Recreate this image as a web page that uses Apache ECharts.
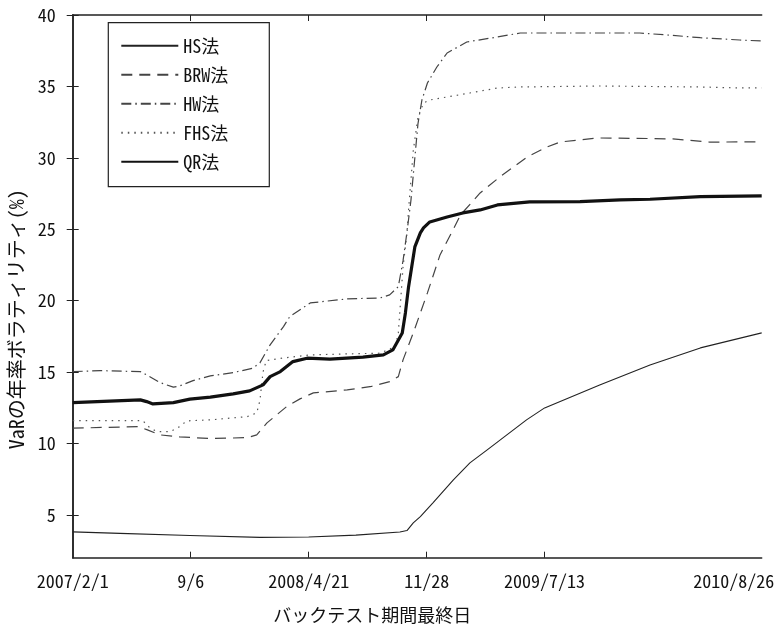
<!DOCTYPE html>
<html>
<head>
<meta charset="utf-8">
<script src="https://cdn.jsdelivr.net/npm/echarts@6/dist/echarts.min.js"></script>
<style>
  html, body { margin: 0; padding: 0; background: #fff; }
  #chart { width: 778px; height: 625px; }
</style>
</head>
<body>
<div id="chart"></div>
<script>
// Backtest end dates: x is the trading-day index from 2007/2/1
const tickDays = [0, 150, 300, 450, 600, 876];
const tickLabels = ['2007/2/1', '9/6', '2008/4/21', '11/28', '2009/7/13', '2010/8/26'];
const yTicks = [5, 10, 15, 20, 25, 30, 35, 40];
const seriesNames = ['HS法', 'BRW法', 'HW法', 'FHS法', 'QR法'];

// Annualized VaR volatility (%) at [trading-day index, value]
const hsData = [[0,3.81],[60,3.70],[149,3.55],[238,3.42],[300,3.45],[360,3.58],[416,3.80],[425,3.90],[433,4.44],[442,4.88],[458,5.84],[484,7.45],[505,8.64],[527,9.55],[552,10.6],[577,11.65],[600,12.49],[670,14.1],[734,15.5],[798,16.69],[876,17.74]];
const brwData = [[0,11.07],[83,11.18],[95,10.95],[111,10.6],[136,10.46],[175,10.34],[222,10.41],[234,10.6],[247,11.44],[272,12.58],[289,13.12],[306,13.54],[349,13.75],[380,14.0],[403,14.33],[414,14.68],[420,15.85],[433,17.74],[451,20.54],[467,23.2],[484,25.0],[493,26.0],[518,27.54],[543,28.66],[578,30.06],[603,30.76],[620,31.11],[667,31.39],[734,31.35],[763,31.32],[810,31.1],[876,31.12]];
const hwData = [[0,15.03],[35,15.1],[86,15.03],[94,14.8],[111,14.26],[128,13.94],[136,14.03],[153,14.4],[175,14.73],[204,14.96],[229,15.27],[238,15.64],[251,16.9],[268,18.18],[276,18.88],[302,19.84],[349,20.12],[391,20.19],[403,20.4],[414,20.98],[420,22.8],[425,24.8],[430,27.0],[435,30.0],[439,32.4],[444,34.05],[451,35.24],[463,36.36],[476,37.34],[501,38.11],[540,38.46],[569,38.74],[645,38.74],[721,38.74],[756,38.6],[798,38.41],[848,38.25],[876,38.18]];
const fhsData = [[0,11.6],[89,11.6],[98,11.1],[107,10.83],[124,10.83],[136,11.18],[145,11.58],[175,11.65],[222,11.88],[234,12.14],[238,13.0],[242,15.0],[246,15.8],[270,16.0],[302,16.2],[349,16.27],[391,16.32],[410,16.78],[414,17.74],[417,20.05],[420,22.36],[425,24.74],[427,26.35],[433,30.5],[439,32.86],[446,33.84],[454,34.05],[476,34.26],[505,34.54],[540,34.89],[569,34.96],[670,35.03],[798,34.96],[848,34.89],[876,34.9]];
const qrData = [[0,12.86],[86,13.05],[94,12.93],[102,12.77],[128,12.86],[149,13.1],[175,13.24],[204,13.47],[225,13.68],[242,14.1],[251,14.68],[264,15.03],[280,15.73],[298,15.97],[327,15.9],[369,16.04],[395,16.2],[407,16.55],[419,17.74],[423,19.14],[427,20.96],[431,22.36],[435,23.76],[442,24.74],[446,25.09],[454,25.51],[476,25.86],[496,26.14],[518,26.35],[540,26.7],[581,26.91],[645,26.93],[696,27.05],[734,27.1],[798,27.28],[876,27.33]];

const FONT = '"Noto Sans Mono CJK JP", "Noto Sans CJK JP", sans-serif';
const AXIS_COLOR = '#222';
const X_MAX = tickDays[tickDays.length - 1];

const chart = echarts.init(document.getElementById('chart'), null, { renderer: 'canvas' });

const frameAxisLine = { show: true, lineStyle: { color: AXIS_COLOR, width: 1.5 } };
const innerTick = (values) => ({ show: true, inside: true, length: 6, customValues: values, lineStyle: { color: AXIS_COLOR, width: 1 } });

chart.setOption({
  animation: false,
  backgroundColor: '#fff',
  textStyle: { fontFamily: FONT },
  grid: { left: 72.7, right: 16.3, top: 15, bottom: 67.3, outerBoundsMode: 'none' },
  legend: {
    orient: 'vertical',
    left: 108.3,
    top: 22.7,
    data: seriesNames,
    itemWidth: 57,
    itemHeight: 14,
    itemGap: 11,
    padding: [14, 41, 16, 12],
    borderColor: '#222',
    borderWidth: 1.2,
    backgroundColor: '#fff',
    // legend keys are plain line samples, no marker
    itemStyle: { color: 'rgba(0,0,0,0)', borderWidth: 0, borderColor: 'rgba(0,0,0,0)' },
    textStyle: { fontFamily: FONT, fontSize: 18, color: '#111', lineHeight: 18 }
  },
  xAxis: [
    {
      type: 'value', min: 0, max: X_MAX, position: 'bottom',
      splitLine: { show: false },
      axisLine: frameAxisLine,
      axisTick: innerTick(tickDays.slice(1, -1)),
      axisLabel: {
        customValues: tickDays,
        margin: 14,
        fontFamily: FONT, fontSize: 18, color: '#111',
        formatter: (v) => {
          const k = tickDays.indexOf(v);
          if (k === tickDays.length - 1) return '{end|' + tickLabels[k] + '}';
          return k >= 0 ? tickLabels[k] : '';
        },
        rich: { end: { fontFamily: FONT, fontSize: 18, color: '#111', padding: [0, 56, 0, 0] } }
      },
      name: 'バックテスト期間最終日',
      nameLocation: 'middle',
      nameGap: 48,
      nameTextStyle: { fontFamily: FONT, fontSize: 18, color: '#111', padding: [0, 90, 0, 0] }
    },
    {
      type: 'value', min: 0, max: X_MAX, position: 'top',
      splitLine: { show: false },
      axisLine: frameAxisLine,
      axisTick: innerTick(tickDays.slice(1, -1)),
      axisLabel: { show: false }
    }
  ],
  yAxis: [
    {
      type: 'value', min: 2, max: 40, position: 'left',
      splitLine: { show: false },
      axisLine: frameAxisLine,
      axisTick: innerTick(yTicks),
      axisLabel: { customValues: yTicks, margin: 17, fontFamily: FONT, fontSize: 18, color: '#111' },
      name: 'VaRの年率ボラティリティ(%)',
      nameLocation: 'middle',
      nameGap: 45,
      nameRotate: 90,
      nameTextStyle: { fontFamily: FONT, fontSize: 20, color: '#111', padding: [0, 66, 0, 0] }
    },
    {
      type: 'value', min: 2, max: 40, position: 'right',
      splitLine: { show: false },
      axisLine: frameAxisLine,
      axisTick: innerTick(yTicks),
      axisLabel: { show: false }
    }
  ],
  series: [
    { name: seriesNames[0], type: 'line', data: hsData, symbol: 'none',
      lineStyle: { color: '#222', width: 1.1, type: 'solid' }, itemStyle: { color: '#222' } },
    { name: seriesNames[1], type: 'line', data: brwData, symbol: 'none',
      lineStyle: { color: '#444', width: 1.2, type: [11, 7] }, itemStyle: { color: '#444' } },
    { name: seriesNames[2], type: 'line', data: hwData, symbol: 'none',
      lineStyle: { color: '#444', width: 1.2, type: [10, 4, 1.5, 4] }, itemStyle: { color: '#444' } },
    { name: seriesNames[3], type: 'line', data: fhsData, symbol: 'none',
      lineStyle: { color: '#555', width: 1.2, type: [1.5, 5] }, itemStyle: { color: '#555' } },
    { name: seriesNames[4], type: 'line', data: qrData, symbol: 'none',
      lineStyle: { color: '#111', width: 3.2, type: 'solid' }, itemStyle: { color: '#111' } }
  ]
});
</script>
</body>
</html>
